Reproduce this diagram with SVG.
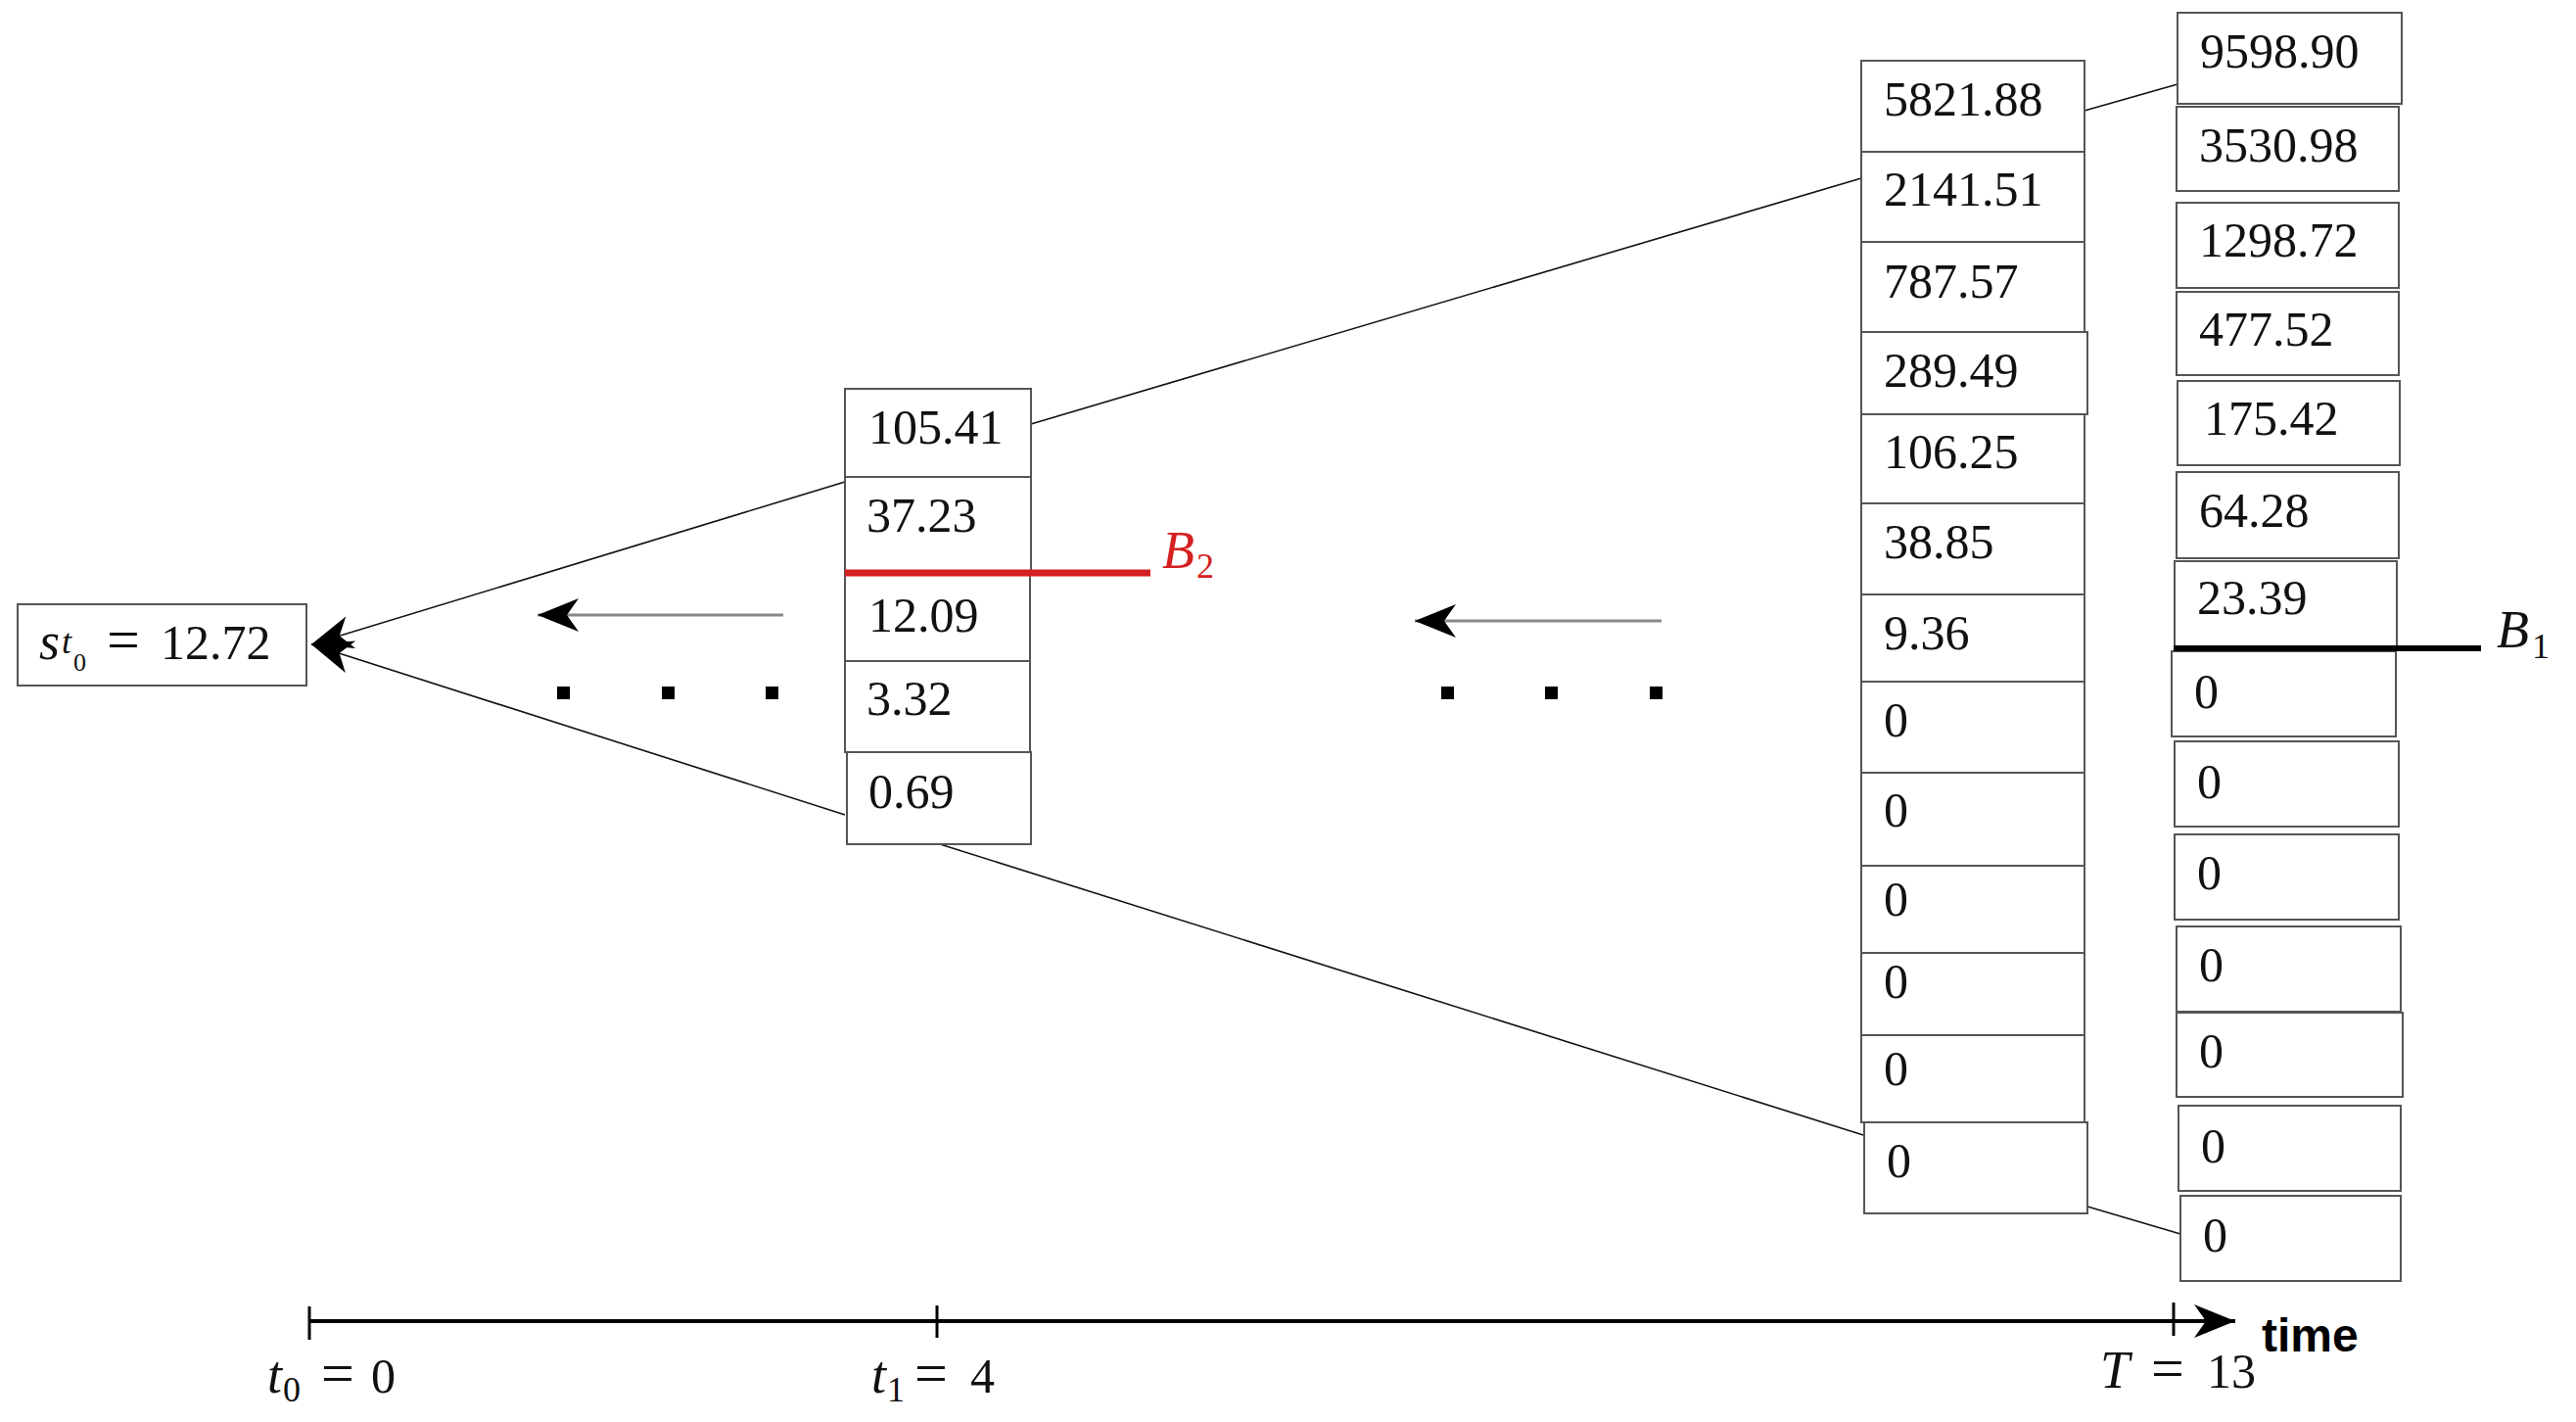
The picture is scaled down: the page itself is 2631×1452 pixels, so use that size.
<svg xmlns="http://www.w3.org/2000/svg" width="2631" height="1452" viewBox="0 0 2631 1452">
<style>
.cell{fill:#fff;stroke:#555;stroke-width:2}
.num{font-family:"Liberation Serif","Times New Roman",serif;font-size:50px;fill:#111}
.math{font-family:"Liberation Serif","Times New Roman",serif;font-size:50px;fill:#111}
.it{font-style:italic}
.eq{font-size:60px}
.conn{stroke:#111;stroke-width:1.6;fill:none}
.garrow{stroke:#888;stroke-width:3;fill:none}
.dot{fill:#000}
</style>
<defs>
<marker id="stealth" markerUnits="userSpaceOnUse" markerWidth="50" markerHeight="40" refX="0" refY="0" orient="auto" overflow="visible">
<path d="M0,0 L-42,-17 L-30,0 L-42,17 Z" fill="#000"/>
</marker>
</defs>
<rect width="2631" height="1452" fill="#fff"/>

<g id="connectors">
<line class="conn" x1="863" y1="492" x2="318" y2="658" marker-end="url(#stealth)"/>
<line class="conn" x1="863" y1="832" x2="318" y2="658" marker-end="url(#stealth)"/>
<line class="conn" x1="1053" y1="433" x2="1901" y2="182"/>
<line class="conn" x1="960" y1="862" x2="1903" y2="1159"/>
<line class="conn" x1="2129" y1="113" x2="2224" y2="86"/>
<line class="conn" x1="2132" y1="1232" x2="2227" y2="1260"/>
<line class="garrow" x1="800" y1="628" x2="549" y2="628" marker-end="url(#stealth)"/>
<line class="garrow" x1="1697" y1="634" x2="1445" y2="634" marker-end="url(#stealth)"/>
</g>

<g id="dots">
<rect class="dot" x="569" y="701" width="13" height="13"/>
<rect class="dot" x="676" y="701" width="13" height="13"/>
<rect class="dot" x="782" y="701" width="13" height="13"/>
<rect class="dot" x="1472" y="701" width="13" height="13"/>
<rect class="dot" x="1578" y="701" width="13" height="13"/>
<rect class="dot" x="1685" y="701" width="13" height="13"/>
</g>

<g id="node-s0">
<rect class="cell" x="18" y="617" width="295" height="83"/>
<text class="math" y="673"><tspan class="it" x="40" font-size="54">s</tspan><tspan class="it" x="63" y="667" font-size="36">t</tspan><tspan x="75" y="685" font-size="26">0</tspan><tspan class="eq" x="109" y="673">=</tspan><tspan x="164">12.72</tspan></text>
</g>

<g id="node-t1">
<rect class="cell" x="863" y="397" width="190" height="90"/>
<rect class="cell" x="863" y="487" width="190" height="98"/>
<rect class="cell" x="863" y="585" width="189" height="90"/>
<rect class="cell" x="863" y="675" width="189" height="93"/>
<rect class="cell" x="865" y="768" width="188" height="94"/>
<text class="num" x="887" y="453">105.41</text>
<text class="num" x="885" y="543">37.23</text>
<text class="num" x="887" y="645">12.09</text>
<text class="num" x="885" y="730">3.32</text>
<text class="num" x="887" y="825">0.69</text>
</g>

<g id="barrier-B2">
<line x1="863" y1="585" x2="1175" y2="585" stroke="#d42020" stroke-width="7"/>
<text class="math" y="580" fill="#d42020"><tspan class="it" x="1187" font-size="54" fill="#d42020">B</tspan><tspan x="1222" y="590" font-size="36" fill="#d42020">2</tspan></text>
</g>

<g id="node-t12">
<rect class="cell" x="1901" y="62" width="228" height="93"/>
<rect class="cell" x="1901" y="155" width="228" height="92"/>
<rect class="cell" x="1901" y="247" width="228" height="92"/>
<rect class="cell" x="1901" y="339" width="231" height="84"/>
<rect class="cell" x="1901" y="423" width="228" height="91"/>
<rect class="cell" x="1901" y="514" width="228" height="93"/>
<rect class="cell" x="1901" y="607" width="228" height="89"/>
<rect class="cell" x="1901" y="696" width="228" height="93"/>
<rect class="cell" x="1901" y="789" width="228" height="95"/>
<rect class="cell" x="1901" y="884" width="228" height="89"/>
<rect class="cell" x="1901" y="973" width="228" height="84"/>
<rect class="cell" x="1901" y="1057" width="228" height="89"/>
<rect class="cell" x="1904" y="1146" width="228" height="93"/>
<text class="num" x="1924" y="118">5821.88</text>
<text class="num" x="1924" y="210">2141.51</text>
<text class="num" x="1924" y="304">787.57</text>
<text class="num" x="1924" y="395">289.49</text>
<text class="num" x="1924" y="478">106.25</text>
<text class="num" x="1924" y="570">38.85</text>
<text class="num" x="1924" y="663">9.36</text>
<text class="num" x="1924" y="752">0</text>
<text class="num" x="1924" y="844">0</text>
<text class="num" x="1924" y="935">0</text>
<text class="num" x="1924" y="1019">0</text>
<text class="num" x="1924" y="1108">0</text>
<text class="num" x="1927" y="1202">0</text>
</g>

<g id="node-T">
<rect class="cell" x="2224" y="13" width="229" height="93"/>
<rect class="cell" x="2223" y="109" width="227" height="86"/>
<rect class="cell" x="2223" y="207" width="227" height="87"/>
<rect class="cell" x="2223" y="298" width="227" height="85"/>
<rect class="cell" x="2224" y="389" width="227" height="86"/>
<rect class="cell" x="2223" y="482" width="227" height="88"/>
<rect class="cell" x="2221" y="573" width="227" height="89"/>
<rect class="cell" x="2218" y="665" width="229" height="87"/>
<rect class="cell" x="2221" y="757" width="229" height="87"/>
<rect class="cell" x="2221" y="852" width="229" height="87"/>
<rect class="cell" x="2223" y="946" width="229" height="87"/>
<rect class="cell" x="2223" y="1034" width="231" height="86"/>
<rect class="cell" x="2225" y="1129" width="227" height="87"/>
<rect class="cell" x="2227" y="1221" width="225" height="87"/>
<text class="num" x="2247" y="69">9598.90</text>
<text class="num" x="2246" y="165">3530.98</text>
<text class="num" x="2246" y="262">1298.72</text>
<text class="num" x="2246" y="353">477.52</text>
<text class="num" x="2251" y="444">175.42</text>
<text class="num" x="2246" y="538">64.28</text>
<text class="num" x="2244" y="627">23.39</text>
<text class="num" x="2241" y="723">0</text>
<text class="num" x="2244" y="815">0</text>
<text class="num" x="2244" y="908">0</text>
<text class="num" x="2246" y="1002">0</text>
<text class="num" x="2246" y="1090">0</text>
<text class="num" x="2248" y="1187">0</text>
<text class="num" x="2250" y="1278">0</text>
</g>

<g id="barrier-B1">
<line x1="2220" y1="662" x2="2534" y2="662" stroke="#000" stroke-width="6"/>
<text class="math" y="661"><tspan class="it" x="2550" font-size="54">B</tspan><tspan x="2586" y="672" font-size="36">1</tspan></text>
</g>

<g id="axis">
<line x1="316" y1="1349" x2="2283" y2="1349" stroke="#000" stroke-width="4" marker-end="url(#stealth)"/>
<line x1="316" y1="1334" x2="316" y2="1368" stroke="#000" stroke-width="3"/>
<line x1="957" y1="1333" x2="957" y2="1366" stroke="#000" stroke-width="3"/>
<line x1="2220" y1="1330" x2="2220" y2="1364" stroke="#000" stroke-width="3"/>
<text class="math" y="1422"><tspan class="it" x="273" font-size="54">t</tspan><tspan x="289" y="1431" font-size="36">0</tspan><tspan class="eq" x="328" y="1422">=</tspan><tspan x="379">0</tspan></text>
<text class="math" y="1422"><tspan class="it" x="890" font-size="54">t</tspan><tspan x="906" y="1431" font-size="36">1</tspan><tspan class="eq" x="934" y="1422">=</tspan><tspan x="991">4</tspan></text>
<text class="math" y="1417"><tspan class="it" x="2145" font-size="54">T</tspan><tspan class="eq" x="2197">=</tspan><tspan x="2254">13</tspan></text>
<text x="2310" y="1380" font-family="Liberation Sans, Arial, sans-serif" font-weight="bold" font-size="48" fill="#000">time</text>
</g>
</svg>
